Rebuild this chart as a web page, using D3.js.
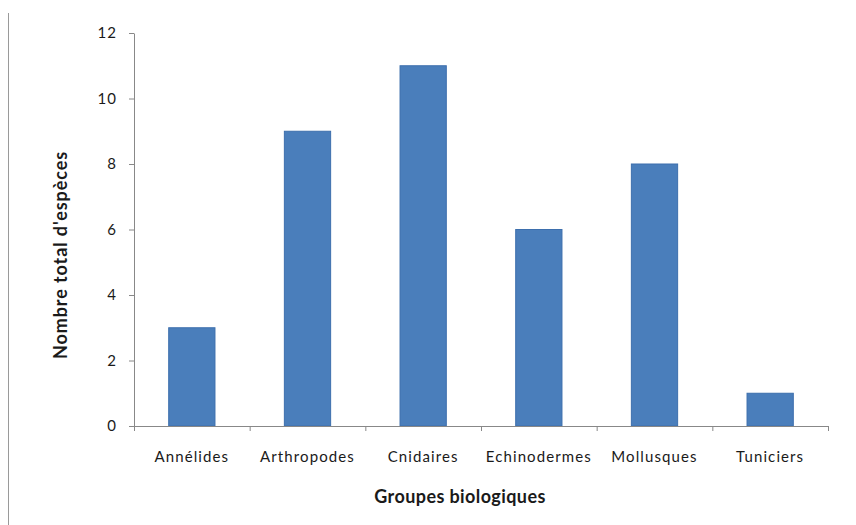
<!DOCTYPE html>
<html>
<head>
<meta charset="utf-8">
<script src="https://cdn.jsdelivr.net/npm/d3@7"></script>
<style>
  html, body { margin: 0; padding: 0; background: #fff; }
  svg { display: block; }
  text { font-family: Lato, "Open Sans", sans-serif; fill: #1a1a1a; }
</style>
</head>
<body>
<svg id="chart" width="856" height="525"></svg>
<script>
// Nombre total d'espèces par groupe biologique
const categories = ["Annélides", "Arthropodes", "Cnidaires", "Echinodermes", "Mollusques", "Tuniciers"];
const speciesCount = [3, 9, 11, 6, 8, 1];
const yTicks = [0, 2, 4, 6, 8, 10, 12];

const svg = d3.select("#chart");
const margin = { left: 134, right: 28, top: 33, bottom: 99 };
const W = 856, H = 525;

// thin frame line on the left edge
svg.append("line")
  .attr("x1", 8.5).attr("x2", 8.5).attr("y1", 13).attr("y2", H)
  .attr("stroke", "#9a9a9a").attr("stroke-width", 1);

const x = d3.scaleBand()
  .domain(categories)
  .range([margin.left, W - margin.right])
  .paddingInner(0.6).paddingOuter(0.3);

const y = d3.scaleLinear()
  .domain([0, 12])
  .range([H - margin.bottom, margin.top]);

// bars
svg.append("g").selectAll("rect")
  .data(categories)
  .join("rect")
  .attr("x", d => x(d))
  .attr("width", x.bandwidth())
  .attr("y", (d, i) => y(speciesCount[i]))
  .attr("height", (d, i) => y(0) - y(speciesCount[i]))
  .attr("fill", "#4a7ebb")
  .attr("stroke", "#3d6fad")
  .attr("stroke-width", 1);

// y axis
const yAxis = svg.append("g")
  .attr("transform", `translate(${margin.left},0)`)
  .call(d3.axisLeft(y).tickValues(yTicks).tickSize(5).tickPadding(12).tickSizeOuter(0));
yAxis.select(".domain").attr("stroke", "#888");
yAxis.selectAll(".tick line").attr("stroke", "#888");
yAxis.selectAll(".tick text")
  .style("font-size", "15px").style("letter-spacing", "1px")
  .style("font-family", "Lato, sans-serif").attr("fill", "#1a1a1a");

// x axis with ticks between categories
const xAxisG = svg.append("g")
  .attr("transform", `translate(0,${y(0)})`);
xAxisG.append("line")
  .attr("x1", margin.left).attr("x2", W - margin.right)
  .attr("y1", 0.5).attr("y2", 0.5)
  .attr("stroke", "#888");
const bounds = d3.range(categories.length + 1).map(i => margin.left + i * ((W - margin.right - margin.left) / categories.length));
xAxisG.selectAll("line.sep")
  .data(bounds)
  .join("line")
  .attr("class", "sep")
  .attr("x1", d => d + 0.5).attr("x2", d => d + 0.5)
  .attr("y1", 0).attr("y2", 5)
  .attr("stroke", "#888");
xAxisG.selectAll("text.cat")
  .data(categories)
  .join("text")
  .attr("class", "cat")
  .attr("x", d => x(d) + x.bandwidth() / 2)
  .attr("y", 36)
  .attr("text-anchor", "middle")
  .style("font-size", "15px")
  .style("letter-spacing", "1.1px")
  .text(d => d);

// axis titles
svg.append("text")
  .attr("x", 460).attr("y", 503)
  .attr("text-anchor", "middle")
  .style("font-size", "18px").style("font-weight", "bold")
  .style("letter-spacing", "0.4px")
  .text("Groupes biologiques");

svg.append("text")
  .attr("transform", `translate(67,255) rotate(-90)`)
  .attr("text-anchor", "middle")
  .style("font-size", "18px").style("font-weight", "bold")
  .style("letter-spacing", "0.9px")
  .text("Nombre total d'espèces");
</script>
</body>
</html>
